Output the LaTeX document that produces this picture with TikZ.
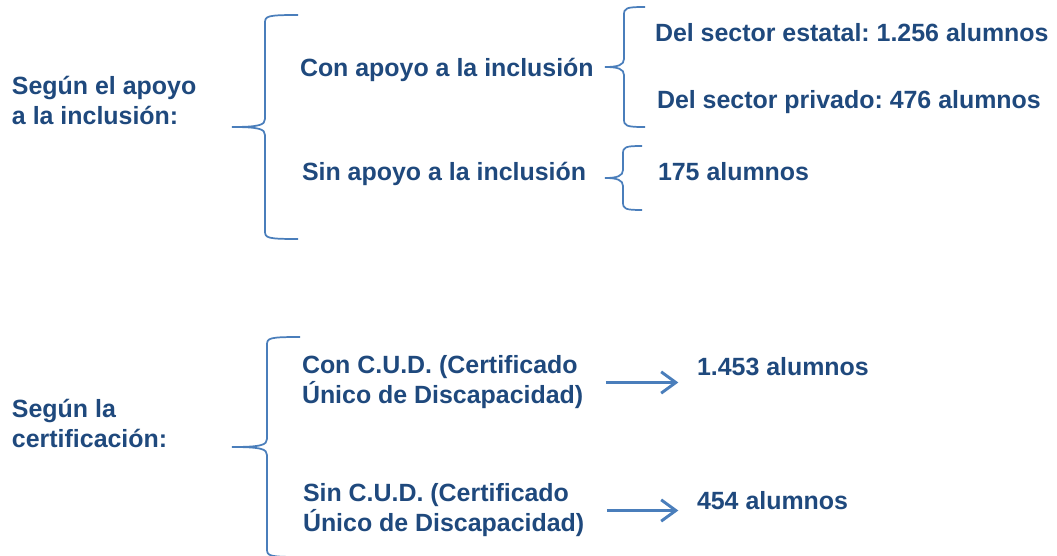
\documentclass[tikz,border=0pt]{standalone}
\usepackage{fontspec}
\setmainfont{Liberation Sans}
\usepackage{xcolor}
\usepackage{tikz}
\usetikzlibrary{arrows.meta}
\frenchspacing
\definecolor{Text-Blue}{RGB}{ 31, 73,125}
\definecolor{Line-Blue}{RGB}{ 74,126,187}
\tikzstyle{t}=[anchor=west,inner sep=0pt,outer sep=0pt,align=left,text=Text-Blue,font=\fontsize{18.7}{22.5}\selectfont\bfseries]
\tikzstyle{tb}=[t,anchor=base west]
\tikzstyle{brace}=[draw=Line-Blue,line width=1.3pt]
\tikzstyle{e}=[draw=Line-Blue,line width=2.2pt,arrows={-Straight Barb[length=11pt,width=16pt]},shorten <=17pt,shorten >=14pt]

\begin{document}
\begin{tikzpicture}[x=0.75pt,y=-0.75pt]
\useasboundingbox (0,0) rectangle (1057,556);

% Nodes
\node[t]  (apoyo)     at (12,100)    {Según el apoyo\\a la inclusión:};
\node[tb] (con apoyo) at (300,77)    {Con apoyo a la inclusión};
\node[tb] (estatal)   at (655,42)    {Del sector estatal: 1.256 alumnos};
\node[tb] (privado)   at (657,109)   {Del sector privado: 476 alumnos};
\node[tb] (sin apoyo) at (302,181)   {Sin apoyo a la inclusión};
\node[tb] (sin total) at (658,181)   {175 alumnos};
\node[t]  (certif)    at (12,423)    {Según la\\certificación:};
\node[t]  (con cud)   at (302,382.5) {Con C.U.D. (Certificado\\Único de Discapacidad)};
\node[tb] (cud yes)   at (697,375)   {1.453 alumnos};
\node[t]  (sin cud)   at (303,510.5) {Sin C.U.D. (Certificado\\Único de Discapacidad)};
\node[tb] (cud no)    at (697,509)   {454 alumnos};

% Braces: tip x / stem x / end x / top / middle / bottom
\foreach \tx/\vx/\ex/\top/\mid/\bot in {232/265/298/15/127/239,
                                        605/624/645/7/67/127,
                                        605/623/642/146/178/210,
                                        232/267/300/337/447/557}
  \draw[brace] (\ex,\top) .. controls (\vx+2,\top) and (\vx,\top+1) .. (\vx,\top+8)
                 -- (\vx,\mid-8) .. controls (\vx,\mid-2) and (\vx-6,\mid) .. (\tx,\mid)
                 .. controls (\vx-6,\mid) and (\vx,\mid+2) .. (\vx,\mid+8)
                 -- (\vx,\bot-8) .. controls (\vx,\bot-1) and (\vx+2,\bot) .. (\ex,\bot);

% Edges
\draw[e] (con cud.east) -- (con cud.east -| cud yes.west);
\draw[e] (sin cud.east) -- (sin cud.east -| cud no.west);

\end{tikzpicture}
\end{document}
